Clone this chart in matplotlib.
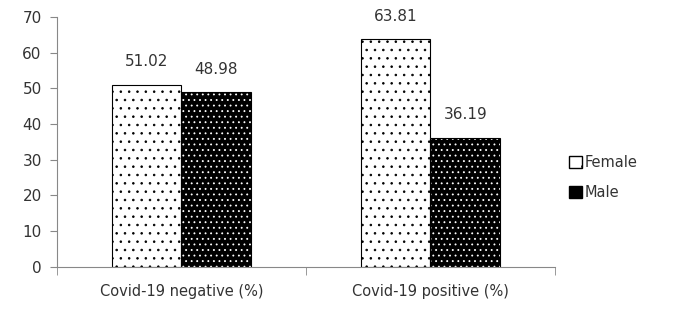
import numpy as np
import matplotlib.pyplot as plt
from matplotlib.patches import Patch

categories = ['Covid-19 negative (%)', 'Covid-19 positive (%)']
female = [51.02, 63.81]
male = [48.98, 36.19]

plt.rcParams['hatch.linewidth'] = 0.6

fig = plt.figure(figsize=(6.82, 3.14), dpi=100)
ax = fig.add_axes([0.0836, 0.150, 0.730, 0.796])

x = np.arange(len(categories))
w = 0.28
txt = '#333333'

ax.bar(x - w / 2, female, w, color='white', edgecolor='black', hatch='..', linewidth=0.8)
# male: black fill with white dots, then black outline on top
ax.bar(x + w / 2, male, w, color='black', edgecolor='white', hatch='...', linewidth=0)
ax.bar(x + w / 2, male, w, color='none', edgecolor='black', linewidth=0.8)

for xi, v in zip(x - w / 2, female):
    ax.text(xi, v + 4.3, f'{v:.2f}', ha='center', va='bottom', fontsize=11, color=txt)
for xi, v in zip(x + w / 2, male):
    ax.text(xi, v + 4.3, f'{v:.2f}', ha='center', va='bottom', fontsize=11, color=txt)

ax.set_ylim(0, 70)
ax.set_xlim(-0.5, 1.5)
ax.set_yticks(range(0, 71, 10))
ax.set_xticks(x)
ax.set_xticklabels(categories, fontsize=10.5, color=txt)
ax.tick_params(axis='x', length=0, pad=12)
ax.set_xticks([-0.5, 0.5, 1.5], minor=True)
ax.tick_params(axis='x', which='minor', length=6, color='#888888', direction='out')
ax.tick_params(axis='y', length=5, color='#888888', labelsize=11, labelcolor=txt, pad=6)

for s in ['top', 'right']:
    ax.spines[s].set_visible(False)
for s in ['left', 'bottom']:
    ax.spines[s].set_color('#888888')

handles = [Patch(facecolor='white', edgecolor='black', hatch='.', label='Female'),
           Patch(facecolor='black', edgecolor='black', hatch='..', label='Male')]
leg = fig.legend(handles=handles, loc='center left', bbox_to_anchor=(0.815, 0.435),
                 frameon=False, fontsize=10.5, handlelength=0.9, handleheight=0.9,
                 handletextpad=0.2, labelspacing=1.0)
for t in leg.get_texts():
    t.set_color(txt)

fig.savefig('out.png', dpi=100)
